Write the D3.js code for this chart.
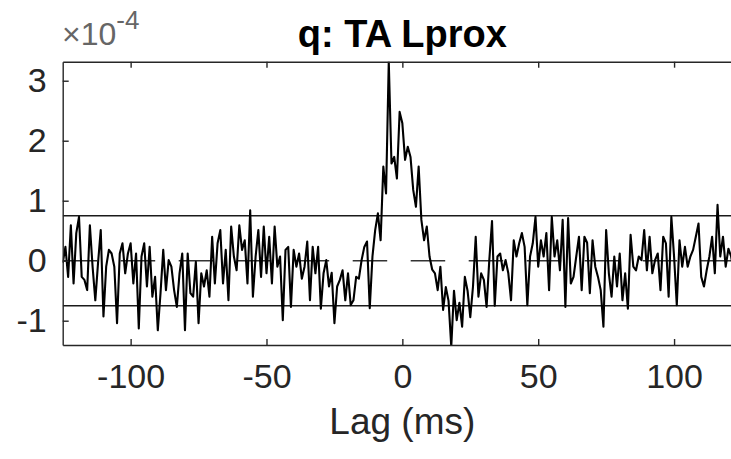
<!DOCTYPE html>
<html>
<head>
<meta charset="utf-8">
<script src="https://cdn.jsdelivr.net/npm/d3@7"></script>
<style>
  body { margin: 0; background: #fff; }
  svg { display: block; font-family: "Liberation Sans", Arial, sans-serif; }
</style>
</head>
<body>
<div id="chart"></div>
<script>
// cross-correlation values (x 1e-4), one per ms of lag, lag -125 .. 125
const lagStart = -125;
const xcorrValues = [
  -0.04, 0.23, -0.27, 0.59, -0.38, 0.46, 0.73, -0.27, -0.32, -0.49,   // -125..-116
  0.59, -0.10, -0.66, -0.04, 0.51, -0.93, -0.10, 0.18, 0.12, -0.10,   // -115..-106
  -1.04, 0.12, 0.29, -0.21, 0.12, 0.29, -0.38, 0.12, -1.13, 0.07,     // -105..-96
  0.29, -0.43, 0.23, -0.60, -0.27, -1.16, -0.54, 0.18, -0.49, 0.01,   // -95..-86
  -0.10, -0.49, -0.77, -0.21, 0.12, -1.16, 0.12, -0.54, -0.60, -0.02, // -85..-76
  -1.04, -0.21, -0.43, -0.16, -0.60, 0.40, -0.38, 0.29, 0.51, -0.38,  // -75..-66
  0.18, -0.66, 0.57, 0.07, -0.16, 0.59, 0.18, 0.34, -0.38, 0.84,      // -65..-56
  -0.60, 0.07, 0.51, -0.27, 0.57, -0.21, 0.40, -0.38, 0.57, -0.10,    // -55..-46
  0.07, -0.99, 0.18, 0.23, -0.77, 0.18, -0.10, 0.12, -0.30, -0.10,    // -45..-36
  0.32, -0.66, 0.23, -0.21, 0.23, -0.80, -0.21, 0.01, -0.43, -0.20,   // -35..-26
  -1.04, -0.43, -0.32, -0.16, -0.66, -0.21, -0.74, -0.66, -0.27, -0.30, // -25..-16
  0.01, 0.23, 0.32, -0.79, 0.07, 0.51, 0.79, 0.34, 1.57, 1.12,        // -15..-6
  3.32, 1.62, 1.73, 1.37, 2.48,                                       // -5..-1
  2.29, 1.68, 1.90, 1.73, 1.18, 0.90, 1.57, 0.68, 0.34, 0.57,         // 0..9
  0.07, -0.15, -0.21, -0.49, -0.10, -0.82, -0.44, -0.67, -1.43, -0.50, // 10..19
  -0.99, -0.70, -1.10, -0.27, -0.50, -0.94, -0.43, 0.40, -0.60, -0.21, // 20..29
  -0.32, -0.77, 0.01, 0.66, -0.75, 0.07, 0.12, -0.16, 0.01, -0.21,    // 30..39
  -0.66, 0.34, 0.07, 0.29, 0.46, 0.23, -0.74, 0.07, 0.29, 0.73,       // 40..49
  -0.10, 0.34, 0.07, 0.46, -0.49, 0.73, 0.07, 0.34, -0.16, 0.68,      // 50..59
  -0.77, 0.71, -0.38, -0.27, 0.07, 0.40, -0.49, 0.40, 0.30, -0.54,    // 60..69
  0.34, -0.10, -0.27, -0.49, -1.10, 0.51, -0.21, -0.60, 0.07, -0.43,  // 70..79
  0.12, -0.66, -0.21, -0.80, 0.43, -0.10, -0.16, 0.07, 0.01, 0.51,    // 80..89
  -0.16, 0.40, -0.21, 0.01, 0.12, -0.49, 0.40, 0.29, -0.60, 0.73,     // 90..99
  0.07, -0.74, 0.34, -0.10, 0.23, -0.10, 0.07, 0.18, 0.40, 0.62,      // 100..109
  -0.27, -0.43, -0.16, 0.07, 0.40, -0.21, 0.93, 0.07, 0.40, -0.10,    // 110..119
  0.20, 0.07, -0.20, 0.30, -0.10, 0.10                                // 120..125
];
const thresholds = [0.75, -0.75];
const xTicks = [-100, -50, 0, 50, 100];
const yTicks = [-1, 0, 1, 2, 3];
const titleText = "q: TA Lprox";
const xLabel = "Lag (ms)";

const data = xcorrValues.map((v, i) => ({ lag: lagStart + i, v: v }));

const W = 731, H = 459;
const margin = { top: 61.7, left: 62.7, right: -11, bottom: 114 };
const axisColor = "#262626";
const fmt = d => String(d); // plain hyphen minus like matlab

const svg = d3.select("#chart").append("svg")
  .attr("width", W)
  .attr("height", H);

const x = d3.scaleLinear().domain([-125, 125]).range([margin.left, W - margin.right]);
const y = d3.scaleLinear().domain([-1.405, 3.317]).range([H - margin.bottom, margin.top]);

svg.append("clipPath").attr("id", "plotclip")
  .append("rect")
  .attr("x", x(-125)).attr("y", y(3.317))
  .attr("width", x(125) - x(-125)).attr("height", y(-1.405) - y(3.317));

const plot = svg.append("g").attr("clip-path", "url(#plotclip)");

// dashed zero line
plot.append("line")
  .attr("x1", x(-125)).attr("x2", x(125))
  .attr("y1", y(0)).attr("y2", y(0))
  .attr("stroke", "#333")
  .attr("stroke-width", 1.6)
  .attr("stroke-dasharray", "34.5,23.5");

// significance lines
plot.selectAll(".thr")
  .data(thresholds)
  .enter()
  .append("line")
  .attr("class", "thr")
  .attr("x1", x(-125)).attr("x2", x(125))
  .attr("y1", d => y(d)).attr("y2", d => y(d))
  .attr("stroke", "#1a1a1a")
  .attr("stroke-width", 1.6);

const line = d3.line()
  .x(d => x(d.lag))
  .y(d => y(d.v));

plot.append("path")
  .datum(data)
  .attr("fill", "none")
  .attr("stroke", "#000")
  .attr("stroke-width", 2.1)
  .attr("stroke-linejoin", "round")
  .attr("d", line);

// box axes, ticks inside
const xAxisB = svg.append("g")
  .attr("transform", `translate(0,${y(-1.405)})`)
  .call(d3.axisBottom(x).tickValues(xTicks).tickFormat(fmt).tickSizeInner(-6).tickSizeOuter(0).tickPadding(16));
const xAxisT = svg.append("g")
  .attr("transform", `translate(0,${y(3.317)})`)
  .call(d3.axisTop(x).tickValues(xTicks).tickSizeInner(-6).tickSizeOuter(0).tickFormat(""));
const yAxisL = svg.append("g")
  .attr("transform", `translate(${x(-125)},0)`)
  .call(d3.axisLeft(y).tickValues(yTicks).tickFormat(fmt).tickSizeInner(-6).tickSizeOuter(0).tickPadding(16));

[xAxisB, xAxisT, yAxisL].forEach(g => {
  g.select(".domain").attr("stroke", axisColor).attr("stroke-width", 1.4);
  g.selectAll(".tick line").attr("stroke", axisColor).attr("stroke-width", 1.4);
  g.selectAll(".tick text")
    .attr("fill", axisColor)
    .style("font-size", "34px")
    .style("font-family", "'Liberation Sans', Arial, sans-serif");
});
xAxisB.selectAll(".tick text").attr("dy", "0.78em");

// exponent label
const expo = svg.append("text")
  .attr("x", 62)
  .attr("y", 45)
  .attr("fill", "#666")
  .style("font-size", "32px");
expo.append("tspan").text("\u00d710");
expo.append("tspan").attr("dy", -16).style("font-size", "26px").text("-4");

svg.append("text")
  .attr("x", x(0))
  .attr("y", 47)
  .attr("text-anchor", "middle")
  .attr("fill", "#000")
  .style("font-size", "38px")
  .style("font-weight", "bold")
  .text(titleText);

svg.append("text")
  .attr("x", x(0))
  .attr("y", 434)
  .attr("text-anchor", "middle")
  .attr("fill", axisColor)
  .style("font-size", "37px")
  .text(xLabel);
</script>
</body>
</html>
